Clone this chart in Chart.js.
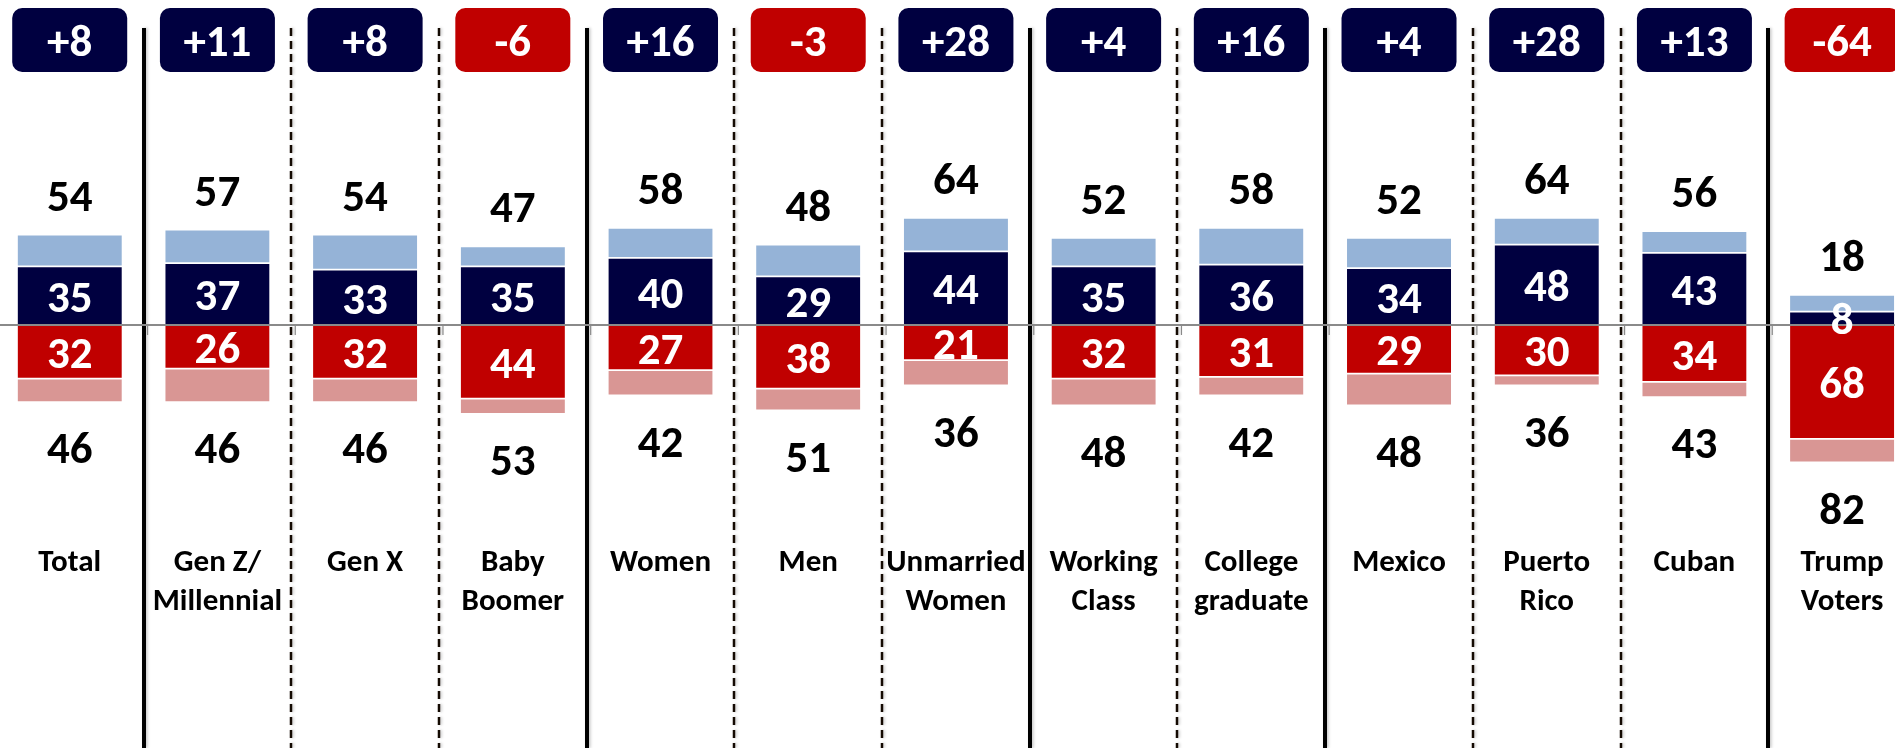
<!DOCTYPE html>
<html>
<head>
<meta charset="utf-8">
<script src="https://cdn.jsdelivr.net/npm/chart.js@4.4.1/dist/chart.umd.min.js"></script>
<style>
  html, body { margin: 0; padding: 0; background: #ffffff; overflow: hidden; }
  #wrap { position: relative; width: 1895px; height: 748px; }
</style>
</head>
<body>
<div id="wrap"><canvas id="chart"></canvas></div>
<script>
// ---------- DATA ----------
const categories = [
  ["Total"], ["Gen Z/", "Millennial"], ["Gen X"], ["Baby", "Boomer"], ["Women"], ["Men"],
  ["Unmarried", "Women"], ["Working", "Class"], ["College", "graduate"], ["Mexico"],
  ["Puerto", "Rico"], ["Cuban"], ["Trump", "Voters"]
];
const totalPositive  = [54, 57, 54, 47, 58, 48, 64, 52, 58, 52, 64, 56, 18];
const strongPositive = [35, 37, 33, 35, 40, 29, 44, 35, 36, 34, 48, 43, 8];
const totalNegative  = [46, 46, 46, 53, 42, 51, 36, 48, 42, 48, 36, 43, 82];
const strongNegative = [32, 26, 32, 44, 27, 38, 21, 32, 31, 29, 30, 34, 68];
const netMargin      = [8, 11, 8, -6, 16, -3, 28, 4, 16, 4, 28, 13, -64];
// categories after which a solid (group) divider is drawn; other gaps get dashed dividers
const groupEnds = [0, 3, 6, 8, 11];

// ---------- STYLE ----------
const NAVY = '#000040', LIGHT_BLUE = '#95B3D7', RED = '#C00000', PINK = '#D99694';
const FONT = 'Carlito, Calibri, Lato, "Open Sans", sans-serif';

const pts = arr => arr.map((v, i) => ({ x: i, y: v }));
const weakPositive = totalPositive.map((t, i) => t - strongPositive[i]);
const weakNegative = totalNegative.map((t, i) => t - strongNegative[i]);

function textMid(ctx, txt, x, yCenter, size, color) {
  ctx.font = 'bold ' + size + 'px ' + FONT;
  ctx.fillStyle = color;
  ctx.textAlign = 'center';
  ctx.textBaseline = 'alphabetic';
  ctx.fillText(txt, x, yCenter + size * 0.36);
}

const overlay = {
  id: 'overlay',
  beforeDatasetsDraw(chart) {
    const { ctx, scales: { x, y }, chartArea } = chart;
    ctx.save();
    for (let i = 0; i < categories.length - 1; i++) {
      const bx = Math.round(x.getPixelForValue(i + 0.5));
      const solid = groupEnds.includes(i);
      ctx.beginPath();
      ctx.shadowColor = 'rgba(0,0,0,0.22)';
      ctx.shadowBlur = 3;
      ctx.shadowOffsetX = 1.5;
      ctx.lineWidth = solid ? 4 : 2.5;
      ctx.strokeStyle = solid ? '#000000' : '#140a02';
      ctx.setLineDash(solid ? [] : [8, 5]);
      ctx.moveTo(bx, 28);
      ctx.lineTo(bx, chartArea.bottom);
      ctx.stroke();
    }
    ctx.restore();
  },
  afterDatasetsDraw(chart) {
    const { ctx, scales: { x, y }, chartArea } = chart;
    ctx.save();
    const y0 = y.getPixelForValue(0);
    // zero line
    ctx.beginPath();
    ctx.strokeStyle = '#8a8a8a';
    ctx.lineWidth = 2;
    ctx.moveTo(chartArea.left, y0);
    ctx.lineTo(chartArea.right, y0);
    ctx.stroke();
    // small ticks at category boundaries
    ctx.lineWidth = 1.2;
    for (let i = 0; i < categories.length - 1; i++) {
      const bx = x.getPixelForValue(i + 0.5);
      ctx.beginPath();
      ctx.moveTo(bx + 4, y0);
      ctx.lineTo(bx + 4, y0 + 10);
      ctx.stroke();
    }
    for (let i = 0; i < categories.length; i++) {
      const cx = x.getPixelForValue(i);
      // badge
      const bw = 115, bh = 64, top = 8;
      ctx.fillStyle = netMargin[i] >= 0 ? NAVY : RED;
      ctx.beginPath();
      ctx.roundRect(cx - bw / 2, top, bw, bh, 10);
      ctx.fill();
      textMid(ctx, (netMargin[i] > 0 ? '+' : '') + netMargin[i], cx, top + bh / 2, 45, '#ffffff');
      // totals
      const yTop = y.getPixelForValue(totalPositive[i]);
      const yBot = y.getPixelForValue(-totalNegative[i]);
      textMid(ctx, String(totalPositive[i]), cx, yTop - 40, 45, '#000000');
      textMid(ctx, String(totalNegative[i]), cx, yBot + 45, 45, '#000000');
      // strong values in segments
      const yS = y.getPixelForValue(strongPositive[i]);
      textMid(ctx, String(strongPositive[i]), cx, (yS + y0) / 2, 45, '#ffffff');
      const yR = y.getPixelForValue(-strongNegative[i]);
      textMid(ctx, String(strongNegative[i]), cx, (yR + y0) / 2, 45, '#ffffff');
      // category label
      categories[i].forEach((line, k) => {
        textMid(ctx, line, cx, 560 + k * 39, 31, '#000000');
      });
    }
    ctx.restore();
  }
};

function build() {
  const common = {
    barThickness: 104,
    borderColor: '#ffffff',
    borderWidth: { top: 1.2, bottom: 1.2, left: 0, right: 0 },
    borderSkipped: false
  };
  new Chart(document.getElementById('chart'), {
    type: 'bar',
    data: {
      datasets: [
        Object.assign({ label: 'Strong positive', data: pts(strongPositive), backgroundColor: NAVY }, common),
        Object.assign({ label: 'Weak positive', data: pts(weakPositive), backgroundColor: LIGHT_BLUE }, common),
        Object.assign({ label: 'Strong negative', data: pts(strongNegative.map(v => -v)), backgroundColor: RED }, common),
        Object.assign({ label: 'Weak negative', data: pts(weakNegative.map(v => -v)), backgroundColor: PINK }, common)
      ]
    },
    options: {
      responsive: true,
      maintainAspectRatio: false,
      animation: false,
      layout: { padding: 0 },
      plugins: { legend: { display: false }, tooltip: { enabled: false } },
      scales: {
        x: { type: 'linear', stacked: true, display: false, offset: false, grid: { offset: false }, min: -0.472, max: 12.358 },
        y: { stacked: true, display: false, min: -252.5, max: 194 }
      }
    },
    plugins: [overlay]
  });
}

const fontLoads = [document.fonts.load('bold 45px Lato'), document.fonts.load('bold 31px Lato')];
Promise.all(fontLoads).then(build, build);
</script>
</body>
</html>
